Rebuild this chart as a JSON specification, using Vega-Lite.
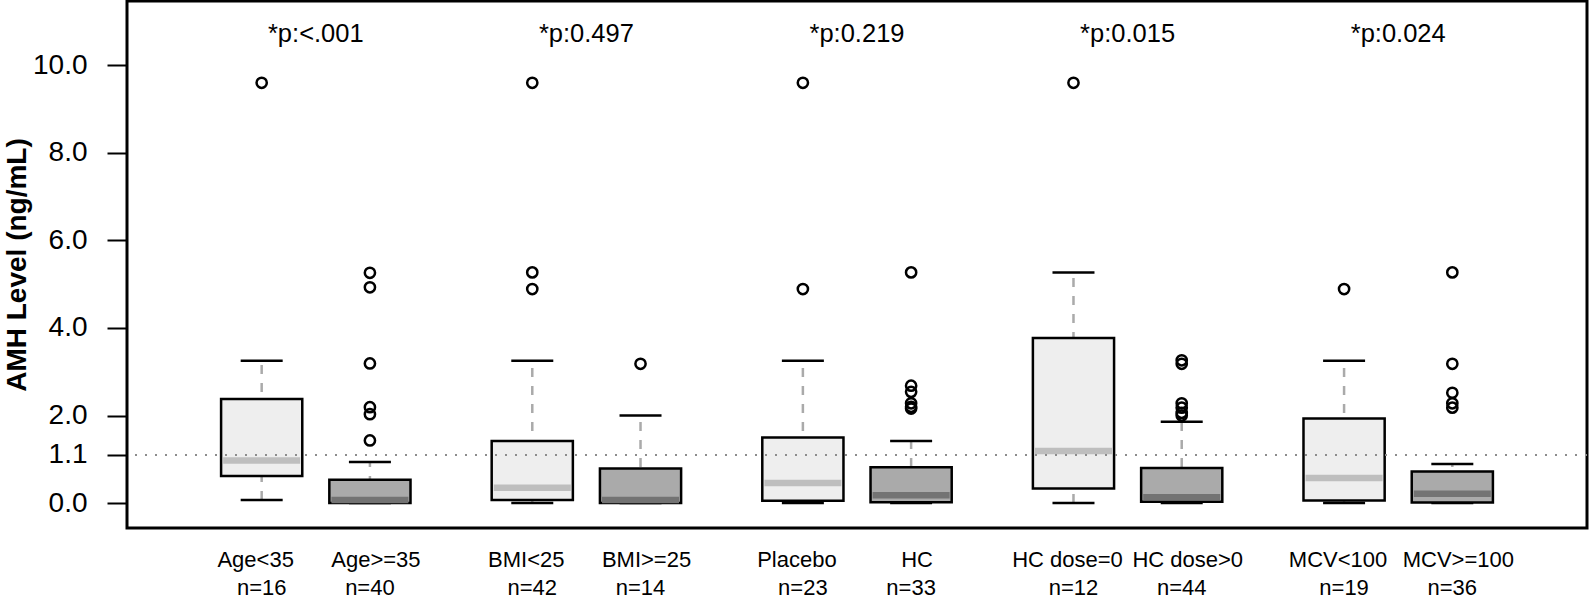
{
  "$schema": "https://vega.github.io/schema/vega-lite/v6.json",
  "width": 1460,
  "height": 527,
  "autosize": {"type": "none"},
  "padding": {"left": 127, "top": 1, "right": 4, "bottom": 71},
  "background": "white",
  "config": {
    "view": {"stroke": "black", "strokeWidth": 3},
    "font": "Liberation Sans"
  },
  "datasets": {
    "boxes": [
      {"pair": "Age", "member": "1", "name": "Age<35", "n": "n=16", "lower": 0.07, "q1": 0.62, "median": 0.97, "q3": 2.38, "upper": 3.25},
      {"pair": "Age", "member": "2", "name": "Age>=35", "n": "n=40", "lower": 0.0, "q1": 0.0, "median": 0.07, "q3": 0.53, "upper": 0.94},
      {"pair": "BMI", "member": "1", "name": "BMI<25", "n": "n=42", "lower": 0.0, "q1": 0.07, "median": 0.35, "q3": 1.42, "upper": 3.25},
      {"pair": "BMI", "member": "2", "name": "BMI>=25", "n": "n=14", "lower": 0.0, "q1": 0.0, "median": 0.07, "q3": 0.79, "upper": 2.0},
      {"pair": "HC", "member": "1", "name": "Placebo", "n": "n=23", "lower": 0.0, "q1": 0.05, "median": 0.46, "q3": 1.5, "upper": 3.25},
      {"pair": "HC", "member": "2", "name": "HC", "n": "n=33", "lower": 0.0, "q1": 0.02, "median": 0.18, "q3": 0.82, "upper": 1.42},
      {"pair": "HC dose", "member": "1", "name": "HC dose=0", "n": "n=12", "lower": 0.0, "q1": 0.33, "median": 1.19, "q3": 3.77, "upper": 5.27},
      {"pair": "HC dose", "member": "2", "name": "HC dose>0", "n": "n=44", "lower": 0.0, "q1": 0.03, "median": 0.13, "q3": 0.8, "upper": 1.86},
      {"pair": "MCV", "member": "1", "name": "MCV<100", "n": "n=19", "lower": 0.0, "q1": 0.06, "median": 0.57, "q3": 1.93, "upper": 3.25},
      {"pair": "MCV", "member": "2", "name": "MCV>=100", "n": "n=36", "lower": 0.0, "q1": 0.01, "median": 0.21, "q3": 0.72, "upper": 0.89}
    ],
    "outliers": [
      {"pair": "Age", "member": "1", "value": 9.6},
      {"pair": "Age", "member": "2", "value": 5.26},
      {"pair": "Age", "member": "2", "value": 4.93},
      {"pair": "Age", "member": "2", "value": 3.19},
      {"pair": "Age", "member": "2", "value": 2.19},
      {"pair": "Age", "member": "2", "value": 2.03},
      {"pair": "Age", "member": "2", "value": 1.43},
      {"pair": "BMI", "member": "1", "value": 9.6},
      {"pair": "BMI", "member": "1", "value": 5.27},
      {"pair": "BMI", "member": "1", "value": 4.89},
      {"pair": "BMI", "member": "2", "value": 3.18},
      {"pair": "HC", "member": "1", "value": 9.6},
      {"pair": "HC", "member": "1", "value": 4.89},
      {"pair": "HC", "member": "2", "value": 5.27},
      {"pair": "HC", "member": "2", "value": 2.68},
      {"pair": "HC", "member": "2", "value": 2.54},
      {"pair": "HC", "member": "2", "value": 2.28},
      {"pair": "HC", "member": "2", "value": 2.2},
      {"pair": "HC", "member": "2", "value": 2.16},
      {"pair": "HC dose", "member": "1", "value": 9.6},
      {"pair": "HC dose", "member": "2", "value": 3.26},
      {"pair": "HC dose", "member": "2", "value": 3.18},
      {"pair": "HC dose", "member": "2", "value": 2.28},
      {"pair": "HC dose", "member": "2", "value": 2.18},
      {"pair": "HC dose", "member": "2", "value": 2.06},
      {"pair": "HC dose", "member": "2", "value": 2.0},
      {"pair": "MCV", "member": "1", "value": 4.89},
      {"pair": "MCV", "member": "2", "value": 5.27},
      {"pair": "MCV", "member": "2", "value": 3.18},
      {"pair": "MCV", "member": "2", "value": 2.52},
      {"pair": "MCV", "member": "2", "value": 2.28},
      {"pair": "MCV", "member": "2", "value": 2.18}
    ],
    "pvals": [
      {"pair": "Age", "p": "*p:<.001"},
      {"pair": "BMI", "p": "*p:0.497"},
      {"pair": "HC", "p": "*p:0.219"},
      {"pair": "HC dose", "p": "*p:0.015"},
      {"pair": "MCV", "p": "*p:0.024"}
    ]
  },
  "encoding": {
    "x": {
      "field": "pair",
      "type": "nominal",
      "axis": null,
      "scale": {"type": "band", "domain": ["Age", "BMI", "HC", "HC dose", "MCV"], "paddingInner": 0.2, "paddingOuter": 0.2977}
    }
  },
  "layer": [
    {
      "data": {"name": "boxes"},
      "mark": {"type": "rule", "color": "#aaaaaa", "strokeWidth": 2.5, "strokeDash": [9, 9]},
      "encoding": {
        "xOffset": {"field": "member", "type": "nominal", "scale": {"domain": ["1", "2"], "paddingInner": 0.25, "paddingOuter": 0.125}},
        "y": {
          "field": "lower",
          "type": "quantitative",
          "title": "AMH Level (ng/mL)",
          "scale": {"domain": [-0.57, 11.47], "nice": false, "zero": false},
          "axis": {
            "values": [0, 1.1, 2, 4, 6, 8, 10],
            "format": ".1f",
            "labelFontSize": 28,
            "labelColor": "black",
            "labelFont": "Liberation Sans",
            "tickSize": 20,
            "tickWidth": 2,
            "tickColor": "black",
            "domain": false,
            "grid": false,
            "labelPadding": 20,
            "titleFont": "Liberation Sans",
            "titleFontSize": 28,
            "titleFontWeight": "bold",
            "titleColor": "black",
            "titlePadding": 1
          }
        },
        "y2": {"field": "upper"}
      }
    },
    {
      "data": {"name": "boxes"},
      "mark": {"type": "tick", "orient": "horizontal", "color": "black", "size": 42, "thickness": 2.5, "opacity": 1},
      "encoding": {
        "xOffset": {"field": "member", "type": "nominal"},
        "y": {"field": "lower", "type": "quantitative", "title": "AMH Level (ng/mL)"}
      }
    },
    {
      "data": {"name": "boxes"},
      "mark": {"type": "tick", "orient": "horizontal", "color": "black", "size": 42, "thickness": 2.5, "opacity": 1},
      "encoding": {
        "xOffset": {"field": "member", "type": "nominal"},
        "y": {"field": "upper", "type": "quantitative", "title": "AMH Level (ng/mL)"}
      }
    },
    {
      "data": {"name": "boxes"},
      "mark": {"type": "bar", "stroke": "black", "strokeWidth": 2.5, "opacity": 1},
      "encoding": {
        "xOffset": {"field": "member", "type": "nominal"},
        "y": {"field": "q1", "type": "quantitative", "title": "AMH Level (ng/mL)"},
        "y2": {"field": "q3"},
        "fill": {"condition": {"test": "datum.member === '1'", "value": "#eeeeee"}, "value": "#aaaaaa"}
      }
    },
    {
      "data": {"name": "boxes"},
      "mark": {"type": "tick", "orient": "horizontal", "size": 77, "thickness": 6.5, "opacity": 1},
      "encoding": {
        "xOffset": {"field": "member", "type": "nominal"},
        "y": {"field": "median", "type": "quantitative", "title": "AMH Level (ng/mL)"},
        "color": {"condition": {"test": "datum.member === '1'", "value": "#bebebe"}, "value": "#737373"}
      }
    },
    {
      "data": {"values": [{}]},
      "mark": {"type": "rule", "color": "#8c8c8c", "strokeWidth": 2, "strokeDash": [2, 8]},
      "encoding": {
        "x": null,
        "y": {"datum": 1.1, "type": "quantitative"}
      }
    },
    {
      "data": {"name": "outliers"},
      "mark": {"type": "point", "shape": "circle", "filled": false, "stroke": "black", "strokeWidth": 2.5, "size": 105, "opacity": 1},
      "encoding": {
        "xOffset": {"field": "member", "type": "nominal"},
        "y": {"field": "value", "type": "quantitative", "title": "AMH Level (ng/mL)"}
      }
    },
    {
      "data": {"name": "boxes"},
      "transform": [{"filter": "datum.member === '1'"}],
      "mark": {"type": "text", "fontSize": 22, "font": "Liberation Sans", "color": "black", "align": "center", "baseline": "alphabetic", "dx": -6},
      "encoding": {
        "xOffset": {"field": "member", "type": "nominal"},
        "y": {"datum": -1.461, "type": "quantitative"},
        "text": {"field": "name"}
      }
    },
    {
      "data": {"name": "boxes"},
      "transform": [{"filter": "datum.member === '2'"}],
      "mark": {"type": "text", "fontSize": 22, "font": "Liberation Sans", "color": "black", "align": "center", "baseline": "alphabetic", "dx": 6},
      "encoding": {
        "xOffset": {"field": "member", "type": "nominal"},
        "y": {"datum": -1.461, "type": "quantitative"},
        "text": {"field": "name"}
      }
    },
    {
      "data": {"name": "boxes"},
      "mark": {"type": "text", "fontSize": 22, "font": "Liberation Sans", "color": "black", "align": "center", "baseline": "alphabetic"},
      "encoding": {
        "xOffset": {"field": "member", "type": "nominal"},
        "y": {"datum": -2.101, "type": "quantitative"},
        "text": {"field": "n"}
      }
    },
    {
      "data": {"name": "pvals"},
      "mark": {"type": "text", "fontSize": 25.5, "font": "Liberation Sans", "color": "black", "align": "center", "baseline": "alphabetic"},
      "encoding": {
        "y": {"datum": 10.54, "type": "quantitative"},
        "text": {"field": "p"}
      }
    }
  ]
}
